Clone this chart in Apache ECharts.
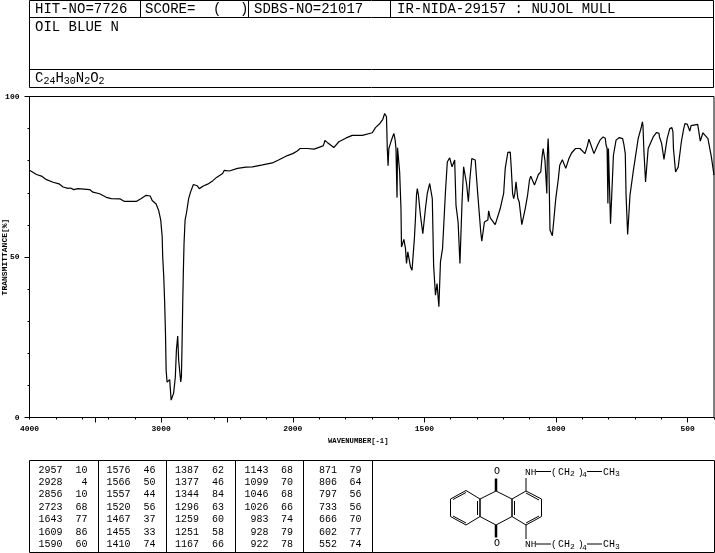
<!DOCTYPE html>
<html>
<head>
<meta charset="utf-8">
<style>html,body{margin:0;padding:0;background:#fff}#c{width:715px;height:553px}</style>
<script src="https://cdn.jsdelivr.net/npm/echarts@6/dist/echarts.min.js"></script>
</head>
<body>
<div id="c"></div>
<script>
const wavenumbers = [4000,3985,3947,3909,3871,3821,3776,3745,3708,3689,3664,3632,3543,3518,3467,3417,3379,3311,3278,3189,3151,3114,3083,3068,3038,3018,3003,2992,2988,2980,2973,2967,2962,2955,2942,2935,2924,2917,2905,2892,2884,2874,2867,2859,2851,2846,2841,2836,2831,2826,2818,2806,2791,2776,2755,2745,2727,2710,2680,2647,2609,2579,2533,2520,2482,2420,2356,2306,2230,2155,2104,2041,2000,1983,1972,1945,1919,1885,1881,1878,1869,1844,1825,1797,1774,1736,1698,1686,1669,1658,1651,1649,1644,1641,1638,1635,1629,1623,1616,1611,1608,1604,1602,1597,1594,1589,1587,1582,1578,1572,1568,1563,1559,1553,1547,1538,1534,1530,1527,1523,1515,1506,1496,1489,1480,1473,1470,1465,1458,1452,1445,1439,1431,1420,1413,1404,1395,1385,1380,1372,1365,1357,1351,1347,1340,1333,1327,1320,1307,1298,1286,1282,1272,1259,1256,1250,1231,1212,1199,1193,1183,1174,1170,1165,1161,1157,1152,1145,1140,1130,1117,1108,1101,1096,1082,1067,1058,1053,1049,1042,1035,1033,1030,1028,1023,1014,1001,991,986,976,963,951,941,926,909,890,881,875,869,856,842,833,821,813,810,806,803,801,798,793,782,772,760,747,742,737,734,728,719,707,688,676,672,670,666,660,650,631,618,609,607,599,590,578,568,560,556,554,546,536,524,515,510,501,492,487,462,452,442,423,410,400];
const transmittance = [77,76.9,75.7,75.2,74.1,73.3,72.8,71.8,71.4,71.5,71,71.3,71,70.2,69.7,68.6,68.2,68.1,67.3,67.3,68.2,69.2,69,67.6,66.5,64.4,61.5,56.3,50,43.8,35.6,26.3,14.7,11,11.6,11.8,5.4,5.2,7.6,12.7,21,25.4,17.9,17.3,11.1,12.7,23,35.5,45.9,54.2,61.5,64.1,68.2,70.3,72.6,72.8,72.2,71.3,72.1,72.7,73.7,74.8,76,77,76.8,77.6,78,78.1,78.7,79.3,80.3,81.6,82.2,83,83.8,83.8,83.6,84.6,85.4,86.3,85.7,84.1,85.9,87.1,87.9,87.9,88.7,90.3,91.6,92.9,94.7,95,93.7,83.8,78.4,83.8,85.4,86.9,88.5,86.4,83.8,68.5,84,83.5,76.5,65.1,53.1,52.7,55.5,52.7,48,51.6,52,47,45.9,55.8,62,69.3,71.3,69.5,63,57.3,65.1,69.8,72.9,73.2,68.2,47.4,38.1,41.7,34.5,48.5,52.7,70.3,79.6,80.9,78.1,80.2,66.1,60.9,48,67.2,78.1,78,72.9,67.2,74.5,80.7,80.2,70.3,57.8,54.9,60.9,61.5,64.4,62.2,60.1,65.1,69.8,77.6,82.6,82.7,77.6,69.8,68.2,69.5,73.4,68.2,67.2,60.1,65.1,69.3,73.9,75.2,72.4,75.7,76.5,81.2,83.8,80,69.8,81.7,86.9,83,58.4,56.6,68.2,74.5,78.6,80.3,77.6,80.7,82.4,83.8,83.8,82.2,84.6,86.7,86.4,82.2,84.9,86.4,87.4,87,84.9,83.8,66.7,83.8,83.8,60.4,81.7,86.4,87.2,86.9,84.9,82.2,69.3,57,69.3,76.5,86.9,90.5,92.1,91.1,82.7,73.4,83.8,87.4,88.8,88.5,87.4,85.4,80.4,86.9,90,90.3,89,83.8,76.5,78,85.9,90,91.6,91.3,89.2,90.9,91.3,86.1,88.7,86.9,81.2,75.5,72.9,72.5];

const xTickLabels = [4000,3000,2000,1500,1000,500];
const xLongTicks = [3500,3000,2500,2000,1500,1000,500];
const yTickLabels = [0,50,100];
const peakWave = [2957,2928,2856,2723,1643,1609,1590, 1576,1566,1557,1520,1467,1455,1410, 1387,1377,1344,1296,1259,1251,1167, 1143,1099,1046,1026,983,928,922, 871,806,797,733,666,602,552];
const peakT = [10,4,10,68,77,86,60, 46,50,44,56,37,33,74, 62,46,84,63,60,58,66, 68,70,68,66,74,79,78, 79,64,56,56,70,77,74];
const headerTexts = ['HIT-NO=7726','SCORE=','(',')','SDBS-NO=21017','IR-NIDA-29157 : NUJOL MULL'];
const compoundName = 'OIL BLUE N';
const formulaParts = ['C','24','H','30','N','2','O','2'];
const yAxisTitle = 'TRANSMITTANCE[%]';

// The x axis changes scale at 2000 cm-1 (twice as many pixels per wavenumber below it).
const toAxis = w => w >= 2000 ? (4000 - w) / 2 : 1000 + (2000 - w);
const fromAxis = u => u <= 1000 ? 4000 - u * 2 : 2000 - (u - 1000);
const points = wavenumbers.map((w, i) => [toAxis(w), transmittance[i]]);

const MONO = '"Liberation Mono","DejaVu Sans Mono",monospace';
const g = [];
const line = (x1, y1, x2, y2, w) => g.push({type:'line', silent:true, shape:{x1,y1,x2,y2}, style:{stroke:'#000', lineWidth:w||1}});
const text = (t, x, y, size, align, weight) => g.push({type:'text', silent:true, style:{text:t, x, y, font:(weight||'normal')+' '+size+'px '+MONO, fill:'#000', textAlign:align||'left', textVerticalAlign:'middle'}});
const box = (x, y, w, h) => g.push({type:'rect', silent:true, shape:{x,y,width:w,height:h}, style:{fill:'none', stroke:'#000', lineWidth:1}});

// header
box(29.5, 0.5, 684, 87);
line(29.5, 17.5, 713.5, 17.5);
line(29.5, 69.5, 713.5, 69.5);
[140.5, 248.5, 390.5].forEach(x => line(x, 0.5, x, 17.5));
[35, 145, 213, 240, 254, 397].forEach((x, i) => text(headerTexts[i], x, 9.5, 14));
text(compoundName, 35, 27, 14);
let fx = 35;
formulaParts.forEach((p, i) => {
  const sub = i % 2 === 1;
  text(p, fx, sub ? 81.5 : 78.5, sub ? 10 : 14);
  fx += sub ? p.length * 6 : 8.4;
});

// y axis title
g.push({type:'text', silent:true, x:4.5, y:257, rotation:Math.PI/2, style:{text:yAxisTitle, x:0, y:0, font:'bold 8px '+MONO, fill:'#000', textAlign:'center', textVerticalAlign:'middle'}});

// peak table
box(29.5, 460.5, 343, 92);
[98.5, 166.5, 235.5, 303.5].forEach(x => line(x, 460.5, x, 552.5));
const waveRight = [62.5, 130.5, 199, 268.5, 337];
const valRight = [87.5, 155.5, 224, 293, 361.5];
peakWave.forEach((w, i) => {
  const col = Math.floor(i / 7), row = i % 7;
  const y = 470 + row * 12.4;
  text(String(w), waveRight[col], y, 10, 'right');
  text(String(peakT[i]), valRight[col], y, 10, 'right');
});

// structure panel
box(372.5, 460.5, 342, 92);
const ring = (pts) => pts.forEach((p, i) => { const q = pts[(i + 1) % pts.length]; line(p[0], p[1], q[0], q[1]); });
ring([[480,499],[466,490.5],[450.5,499],[450.5,516.5],[466,525],[480,516.5]]);
ring([[480,499],[496,491],[512,499],[512,516.5],[496,525],[480,516.5]]);
ring([[512,499],[526,491],[541.5,499],[541.5,516.5],[526,525],[512,516.5]]);
line(453, 499.5, 466, 492.5); line(453, 516, 466, 523);
line(477.5, 501, 477.5, 515); line(514.5, 501, 514.5, 515);
line(526, 493, 539, 500); line(526, 523, 539, 516);
line(496, 478.5, 496, 491, 2.5); line(496, 525, 496, 537.5, 2.5);
line(526, 491, 526, 478); line(526, 525, 526, 539);
[472, 544.5].forEach((y, k) => {
  text('O', 497, k ? 543.5 : 471.5, 10, 'center');
  text('NH', 525, y, 9.5);
  line(536, y - 0.5, 551, y - 0.5);
  text('(', 551, y, 9.5); text('CH', 558, y, 10); text('2', 570, y + 2, 8);
  text(')', 578, y, 9.5); text('4', 582, y + 3, 8);
  line(587, y - 0.5, 602, y - 0.5);
  text('CH', 603, y, 10); text('3', 615, y + 2, 8);
});

const axisFont = {color:'#000', fontFamily:MONO, fontSize:8, fontWeight:'bold'};
const axisLine = {show:true, lineStyle:{color:'#000', width:1}};
const option = {
  animation:false,
  backgroundColor:'#fff',
  grid:{left:29.5, top:96.5, width:684.5, height:321, show:true, borderColor:'#000', borderWidth:1, backgroundColor:'transparent', outerBoundsMode:'none'},
  xAxis:[
    {type:'value', min:0, max:2600, interval:100, position:'bottom', axisLine, splitLine:{show:false},
     axisTick:{show:true, length:2, lineStyle:{color:'#000'}},
     axisLabel:{...axisFont, margin:7, customValues:xTickLabels.map(toAxis), showMinLabel:true, showMaxLabel:true, hideOverlap:false, formatter:v => String(Math.round(fromAxis(v)))},
     name:'WAVENUMBER[-1]', nameLocation:'middle', nameGap:16, nameTextStyle:{...axisFont, fontSize:7.2, padding:[0,27,0,0]}},
    {type:'value', min:0, max:2600, position:'bottom', axisLine:{show:false}, splitLine:{show:false},
     axisTick:{show:true, length:5, customValues:xLongTicks.map(toAxis), lineStyle:{color:'#000'}},
     axisLabel:{show:false}}
  ],
  yAxis:[
    {type:'value', min:0, max:100, interval:10, position:'left', axisLine, splitLine:{show:false},
     axisTick:{show:true, length:2, lineStyle:{color:'#000'}},
     axisLabel:{...axisFont, margin:10, customValues:yTickLabels}},
    {type:'value', min:0, max:100, position:'left', offset:0, axisLine:{show:false}, splitLine:{show:false},
     axisTick:{show:true, length:5, customValues:yTickLabels, lineStyle:{color:'#000'}},
     axisLabel:{show:false}}
  ],
  series:[{type:'line', data:points, xAxisIndex:0, yAxisIndex:0, showSymbol:false, smooth:false, clip:false, lineStyle:{color:'#000', width:1.2}}],
  graphic:g
};
const chart = echarts.init(document.getElementById('c'), null, {renderer:'canvas', width:715, height:553});
chart.setOption(option);
</script>
</body>
</html>
